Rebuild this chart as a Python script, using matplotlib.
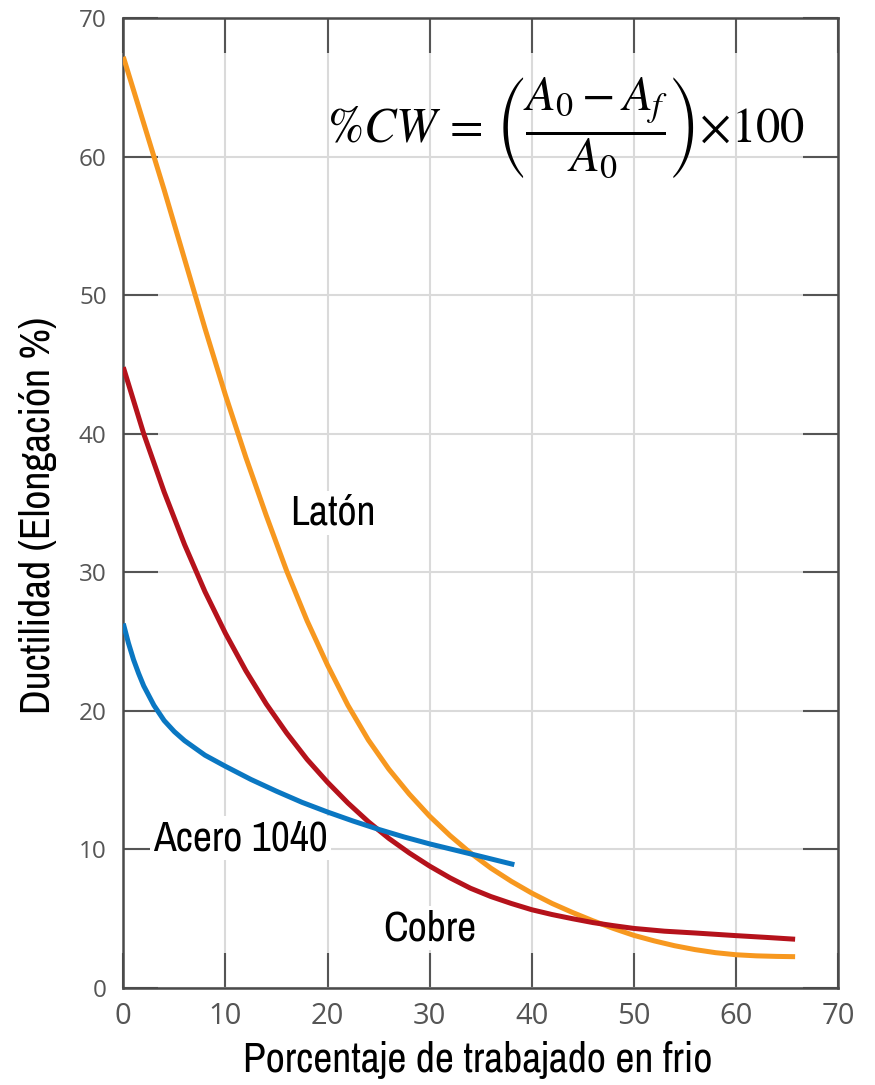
import matplotlib.pyplot as plt
from matplotlib import font_manager

plt.rcParams['mathtext.fontset'] = 'stix'

laton_x = [0, 2, 4, 6, 8, 10, 12, 14, 16, 18, 20, 22, 24, 26, 28, 30, 32, 34, 36, 38,
           40, 42, 44, 46, 48, 50, 52, 54, 56, 58, 60, 62, 64, 65.8]
laton_y = [67.2, 62.4, 57.6, 52.6, 47.6, 42.8, 38.3, 34.1, 30.1, 26.5, 23.3, 20.4, 17.9, 15.8,
           14.0, 12.4, 11.0, 9.75, 8.65, 7.7, 6.85, 6.1, 5.45, 4.85, 4.3, 3.8, 3.4, 3.05, 2.77,
           2.55, 2.4, 2.32, 2.28, 2.26]

cobre_x = [0, 2, 4, 6, 8, 10, 12, 14, 16, 18, 20, 22, 24, 26, 28, 30, 32, 34, 36, 38,
           40, 42, 44, 46, 48, 50, 53, 56, 60, 63, 65.8]
cobre_y = [44.8, 40.0, 35.8, 32.0, 28.6, 25.6, 22.9, 20.5, 18.4, 16.5, 14.85, 13.35, 12.0, 10.8,
           9.75, 8.8, 7.95, 7.2, 6.6, 6.1, 5.65, 5.3, 5.0, 4.72, 4.5, 4.3, 4.1, 3.97, 3.78,
           3.65, 3.52]

acero_x = [0, 0.5, 1, 1.5, 2, 3, 4, 5, 6, 8, 10, 12.5, 15, 17.5, 20, 22.5, 25, 27.5, 30,
           32.5, 35, 38.3]
acero_y = [26.3, 24.9, 23.7, 22.7, 21.8, 20.4, 19.3, 18.5, 17.85, 16.8, 16.0, 15.05, 14.2,
           13.4, 12.7, 12.05, 11.45, 10.9, 10.4, 9.95, 9.5, 8.9]

ticks = [0, 10, 20, 30, 40, 50, 60, 70]

# the labels are in a narrow sans; use one if installed
narrow_found = sorted({f.name for f in font_manager.fontManager.ttflist
                       if 'Narrow' in f.name or 'Condensed' in f.name})
if narrow_found:
    lab_font = [narrow_found[0], 'DejaVu Sans']
    lab_size = 30
else:
    lab_font = ['Liberation Sans', 'DejaVu Sans']
    lab_size = 25.5

fig = plt.figure(figsize=(8.75, 10.85), dpi=100)
ax = fig.add_axes([123.3 / 875, 1 - 988 / 1085, (838 - 123.3) / 875, (988 - 18) / 1085])

ax.plot(laton_x, laton_y, color='#f7981f', lw=3.6, zorder=4, solid_capstyle='butt')
ax.plot(cobre_x, cobre_y, color='#b5121b', lw=3.6, zorder=4, solid_capstyle='butt')
ax.plot(acero_x, acero_y, color='#0a77c2', lw=3.6, zorder=4, solid_capstyle='butt')

ax.set_xlim(0, 70)
ax.set_ylim(0, 70)
ax.set_xticks(ticks)
ax.set_yticks(ticks)
ax.grid(True, color='#dadada', lw=1.5, zorder=0)
ax.tick_params(direction='in', length=25, width=1.5, color='#555555',
               top=True, right=True, labelcolor='#555555')
ax.tick_params(axis='x', labelsize=21, pad=10)
ax.tick_params(axis='y', labelsize=17.5, pad=12)
for lab in ax.get_xticklabels() + ax.get_yticklabels():
    lab.set_family('Open Sans')
for s in ax.spines.values():
    s.set_color('#4a4a4a')
    s.set_linewidth(1.8)

box = dict(facecolor='white', edgecolor='none', pad=2)
ax.text(20.5, 34.3, 'Latón', fontsize=lab_size, family=lab_font, ha='center', va='center', bbox=box, zorder=3)
ax.text(11.5, 10.8, 'Acero 1040', fontsize=lab_size, family=lab_font, ha='center', va='center', bbox=box, zorder=3)
ax.text(30.0, 4.3, 'Cobre', fontsize=lab_size, family=lab_font, ha='center', va='center', bbox=box, zorder=3)

ax.text(43.4, 62.06, r'$\%CW\,{=}\,\left(\dfrac{A_0-A_f}{A_0}\right){\times}100$',
        fontsize=35, ha='center', va='center', zorder=3)

fig.text(478 / 875, 1 - 1060 / 1085, 'Porcentaje de trabajado en frio', fontsize=lab_size,
         family=lab_font, ha='center', va='center')
fig.text(38 / 875, 1 - 515 / 1085, 'Ductilidad (Elongación %)', fontsize=lab_size,
         family=lab_font, ha='center', va='center', rotation=90)

fig.savefig('out.png', dpi=100)
